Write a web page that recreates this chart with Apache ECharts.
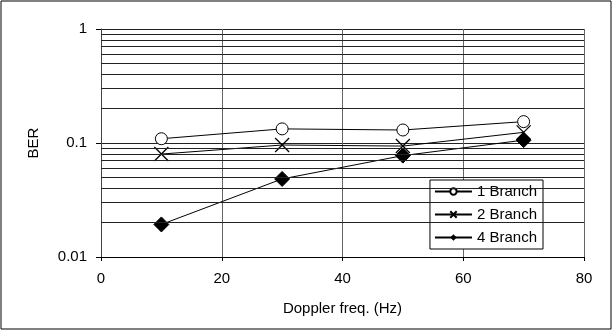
<!DOCTYPE html>
<html>
<head>
<meta charset="utf-8">
<script src="https://cdn.jsdelivr.net/npm/echarts@6/dist/echarts.min.js"></script>
<style>
    html, body { margin: 0; padding: 0; background: #fff; }
    #chart { width: 613px; height: 331px; }
</style>
</head>
<body>
<div id="chart"></div>
<script>
// doppler frequencies (Hz)
var dopplerFreq = [10, 30, 50, 70];
// BER
var ber1Branch = [0.109, 0.133, 0.130, 0.154];
var ber2Branch = [0.080, 0.096, 0.094, 0.124];
var ber4Branch = [0.0193, 0.0484, 0.0775, 0.106];
var seriesNames = ["1 Branch", "2 Branch", "4 Branch"];
// log minor grid lines
var minorGridValues = [
    0.02, 0.03, 0.04, 0.05, 0.06, 0.07, 0.08, 0.09,
    0.2, 0.3, 0.4, 0.5, 0.6, 0.7, 0.8, 0.9
];

var font = "Liberation Sans";
var crossSymbol = "path://M0,0L10,10M10,0L0,10";

function pairs(ys) {
    return dopplerFreq.map(function (x, i) {
        return [x, ys[i]];
    });
}

var chart = echarts.init(document.getElementById("chart"));
chart.setOption({
    animation: false,
    textStyle: { fontFamily: font },
    graphic: [
        {
            type: "rect",
            shape: { x: 1, y: 1, width: 610, height: 328 },
            style: { fill: "none", stroke: "#000", lineWidth: 1 },
            silent: true
        }
    ],
    grid: {
        left: 101,
        right: 29,
        top: 29,
        bottom: 74,
        show: false
    },
    legend: {
        data: seriesNames,
        orient: "vertical",
        right: 70,
        top: 180,
        padding: [4, 6, 4, 4],
        itemGap: 8,
        itemWidth: 37,
        itemHeight: 8,
        backgroundColor: "#fff",
        borderColor: "#000",
        borderWidth: 1,
        borderRadius: 0,
        textStyle: { fontFamily: font, fontSize: 15, color: "#000" }
    },
    xAxis: {
        type: "value",
        min: 0,
        max: 80,
        interval: 20,
        name: "Doppler freq. (Hz)",
        nameLocation: "middle",
        nameGap: 44,
        nameTextStyle: { fontFamily: font, fontSize: 15, color: "#000" },
        axisLine: { show: true, lineStyle: { color: "#000", width: 1 } },
        axisTick: { show: true, length: 4, lineStyle: { color: "#000" } },
        axisLabel: { fontFamily: font, fontSize: 15, color: "#000", margin: 14 },
        splitLine: { show: true, lineStyle: { color: "#666", width: 1 } }
    },
    yAxis: {
        type: "log",
        logBase: 10,
        min: 0.01,
        max: 1,
        splitNumber: 2,
        name: "BER",
        nameLocation: "middle",
        nameGap: 60,
        nameRotate: 90,
        nameTextStyle: { fontFamily: font, fontSize: 15, color: "#000" },
        axisLine: { show: true, lineStyle: { color: "#444", width: 1 } },
        axisTick: { show: true, length: 5, lineStyle: { color: "#000" } },
        axisLabel: {
            fontFamily: font,
            fontSize: 15,
            color: "#000",
            margin: 14,
            formatter: function (v) { return String(+v.toPrecision(3)); }
        },
        splitLine: { show: true, lineStyle: { color: "#222", width: 1 } }
    },
    series: [
        {
            name: "grid",
            type: "line",
            data: [],
            z: 1,
            silent: true,
            markLine: {
                silent: true,
                symbol: "none",
                label: { show: false },
                lineStyle: { color: "#222", width: 1, type: "solid" },
                data: minorGridValues.map(function (v) { return { yAxis: v }; })
            }
        },
        {
            name: seriesNames[0],
            type: "line",
            z: 3,
            data: pairs(ber1Branch),
            symbol: "circle",
            symbolSize: 12,
            lineStyle: { color: "#000", width: 1 },
            itemStyle: { color: "#fff", borderColor: "#000", borderWidth: 1 }
        },
        {
            name: seriesNames[1],
            type: "line",
            z: 3,
            data: pairs(ber2Branch),
            symbol: crossSymbol,
            symbolSize: 14,
            lineStyle: { color: "#000", width: 1 },
            itemStyle: { color: "#000", borderColor: "#000", borderWidth: 1.3 }
        },
        {
            name: seriesNames[2],
            type: "line",
            z: 3,
            data: pairs(ber4Branch),
            symbol: "diamond",
            symbolSize: 15,
            lineStyle: { color: "#000", width: 1 },
            itemStyle: { color: "#000", borderColor: "#000" }
        }
    ]
});
</script>
</body>
</html>
